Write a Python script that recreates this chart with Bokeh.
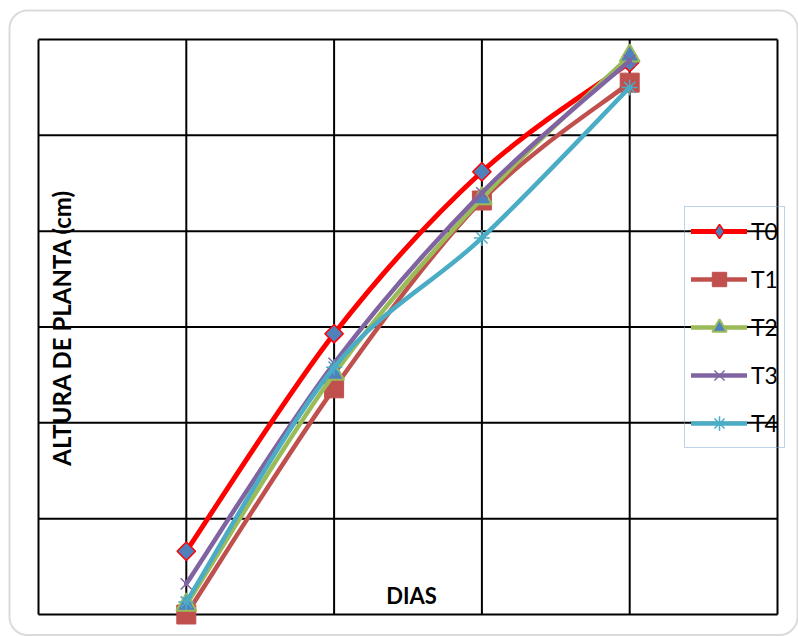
import math
import numpy as np
from bokeh.plotting import figure
from bokeh.models import (Legend, LegendItem, Label, BoxAnnotation,
                          ColumnDataSource, Range1d)
from bokeh.embed import file_html
from bokeh.resources import INLINE

# ---- data -------------------------------------------------------------
dias = [1, 2, 3, 4]
t0 = [6.6, 29.3, 46.2, 57.6]
t1 = [0.0, 23.6, 43.2, 55.5]
t2 = [1.0, 25.1, 43.4, 58.3]
t3 = [3.2, 26.2, 44.0, 57.8]
t4 = [1.3, 25.8, 39.3, 55.0]
series_names = ["T0", "T1", "T2", "T3", "T4"]
x_grid_ticks = [0, 1, 2, 3, 4, 5]
y_grid_ticks = [0, 10, 20, 30, 40, 50, 60]

# ---- layout -----------------------------------------------------------
W, H = 798, 636
BOX_L, BOX_R, BOX_T, BOX_B = 38, 777, 39, 614
X_MIN, X_MAX = 0, 5
Y_MIN, Y_MAX = 0, 60
kx = (BOX_R - BOX_L) / (X_MAX - X_MIN)
ky = (BOX_B - BOX_T) / (Y_MAX - Y_MIN)
x0_range = X_MIN - BOX_L / kx
y0_range = Y_MIN - (H - BOX_B) / ky

p = figure(width=W, height=H,
           x_range=Range1d(x0_range, X_MAX + (W - BOX_R) / kx),
           y_range=Range1d(y0_range, Y_MAX + BOX_T / ky),
           x_axis_type=None, y_axis_type=None,
           output_backend="svg", toolbar_location=None, min_border=0)
p.outline_line_color = None
p.background_fill_color = "white"
p.border_fill_color = "white"


def px_to_x(px):
    return x0_range + px / kx


def py_to_y(py):
    return y0_range + (H - py) / ky


# rounded chart-area border
p.add_layout(BoxAnnotation(left=px_to_x(9), right=px_to_x(797),
                           bottom=py_to_y(634.5), top=py_to_y(10),
                           fill_alpha=0, line_color="#878787",
                           line_width=2, border_radius=18))

# grid box: vertical and horizontal lines bounded to the plot area
p.segment(x0=x_grid_ticks, y0=[Y_MIN] * len(x_grid_ticks),
          x1=x_grid_ticks, y1=[Y_MAX] * len(x_grid_ticks),
          line_color="black", line_width=2)
p.segment(x0=[X_MIN] * len(y_grid_ticks), y0=y_grid_ticks,
          x1=[X_MAX] * len(y_grid_ticks), y1=y_grid_ticks,
          line_color="black", line_width=2)


def smooth_segments(xs, ys):
    """Cubic Bezier pieces through the points (Catmull-Rom style smoothing)."""
    pts = np.column_stack([xs, ys]).astype(float)
    n = len(pts)
    cols = {k: [] for k in ("x0", "y0", "x1", "y1", "cx0", "cy0", "cx1", "cy1")}
    for i in range(n - 1):
        a = pts[i - 1] if i > 0 else pts[i]
        b = pts[i]
        c = pts[i + 1]
        d = pts[i + 2] if i + 2 < n else pts[i + 1]
        c1 = b + (c - a) / 6.0
        c2 = c - (d - b) / 6.0
        cols["x0"].append(b[0]); cols["y0"].append(b[1])
        cols["x1"].append(c[0]); cols["y1"].append(c[1])
        cols["cx0"].append(c1[0]); cols["cy0"].append(c1[1])
        cols["cx1"].append(c2[0]); cols["cy1"].append(c2[1])
    return ColumnDataSource(cols)


styles = [
    dict(line="#FF0000", lw=5, marker="square", angle=math.pi / 4, size=13,
         fill="#4F81BD", mline="#FF0000", mlw=1.5, key="diamond"),
    dict(line="#C0504D", lw=4.5, marker="square", angle=0, size=19,
         fill="#C0504D", mline="#C0504D", mlw=1, key=None),
    dict(line="#9BBB59", lw=4.5, marker="triangle", angle=0, size=20,
         fill="#4F81BD", mline="#9BBB59", mlw=2, key=None),
    dict(line="#8064A2", lw=4.5, marker="x", angle=0, size=16,
         fill="#8064A2", mline="#8064A2", mlw=1.5, key=None),
    dict(line="#4BACC6", lw=4.5, marker="asterisk", angle=0, size=16,
         fill="#4BACC6", mline="#4BACC6", mlw=1.5, key=None),
]

items = []
for name, ys, st in zip(series_names, [t0, t1, t2, t3, t4], styles):
    src = smooth_segments(dias, ys)
    r_line = p.bezier(x0="x0", y0="y0", x1="x1", y1="y1",
                      cx0="cx0", cy0="cy0", cx1="cx1", cy1="cy1",
                      source=src, line_color=st["line"], line_width=st["lw"],
                      line_cap="round")
    r_pts = p.scatter(dias, ys, marker=st["marker"], size=st["size"],
                      angle=st["angle"], fill_color=st["fill"],
                      line_color=st["mline"], line_width=st["mlw"])
    key_renderers = [r_line, r_pts]
    if st["key"]:
        # the legend does not rotate markers, so the key uses its own symbol
        r_key = p.scatter(dias, ys, marker=st["key"], size=st["size"],
                          fill_color=st["fill"], line_color=st["mline"],
                          line_width=st["mlw"], visible=False)
        key_renderers = [r_line, r_key]
    items.append(LegendItem(label=name, renderers=key_renderers))

# legend box: left 684, bottom 448 (pixels from the top-left corner)
legend = Legend(items=items, location=(684, H - 448),
                glyph_width=56, glyph_height=36, label_height=36,
                spacing=12, padding=6, margin=0, label_standoff=4,
                label_text_font="Lato", label_text_font_size="23px",
                label_text_color="black",
                border_line_color="#7EA6D8", border_line_width=1,
                background_fill_alpha=0)
p.add_layout(legend)

p.add_layout(Label(x=px_to_x(61), y=py_to_y(327),
                   text="ALTURA DE PLANTA (cm)", angle=math.pi / 2,
                   text_align="center", text_baseline="middle",
                   text_font="Lato", text_font_style="bold",
                   text_font_size="24px", text_color="black"))
p.add_layout(Label(x=px_to_x(411), y=py_to_y(595),
                   text="DIAS", text_align="center", text_baseline="middle",
                   text_font="Lato", text_font_style="bold",
                   text_font_size="22px", text_color="black"))

open("out.html", "w").write(file_html(p, INLINE))
